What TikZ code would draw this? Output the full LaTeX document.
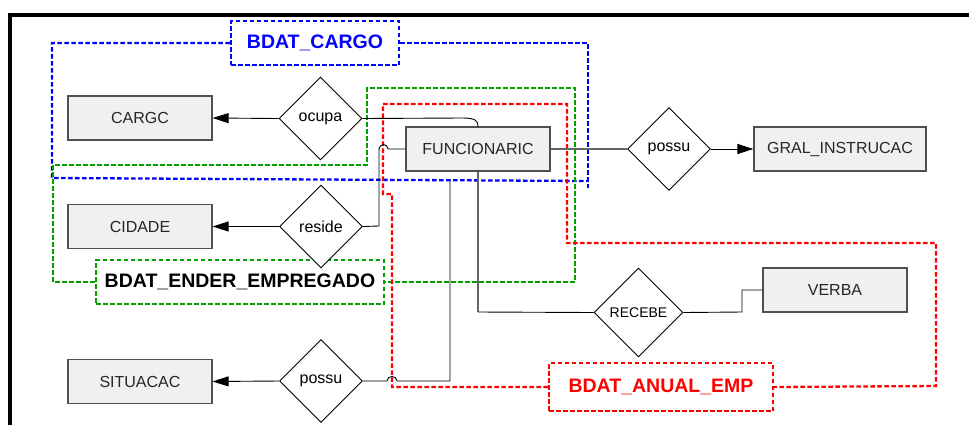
\documentclass[tikz,border=0pt]{standalone}
\usepackage{fontspec}
\setmainfont{Liberation Sans}
\usetikzlibrary{shapes.geometric,arrows.meta}
\definecolor{entfill}{RGB}{240,240,240}
\definecolor{entdraw}{RGB}{80,80,80}
\definecolor{grpblue}{RGB}{0,0,255}
\definecolor{grpgreen}{RGB}{0,160,0}
\definecolor{grpred}{RGB}{255,0,0}
\tikzset{
  entity/.style={draw=entdraw, line width=1.2pt, fill=entfill, minimum width=144pt, minimum height=44pt, inner sep=0pt, font=\fontsize{16}{18}\selectfont, text=black!85},
  rel/.style={draw=black, line width=0.9pt, fill=white, shape=diamond, shape aspect=1, minimum width=83pt, minimum height=83pt, inner sep=0pt, font=\fontsize{16}{18}\selectfont},
  conn/.style={draw=black, line width=0.9pt},
  gconn/.style={draw=black!60, line width=1.4pt},
  arr/.style={-{Triangle[length=16pt,width=10pt]}},
  grp/.style={line width=2.3pt, dash pattern=on 4.5pt off 2.5pt},
  grplabel/.style={grp, fill=white, inner sep=0pt, font=\fontsize{19.5}{22}\selectfont\bfseries}
}
\begin{document}
\begin{tikzpicture}[x=1pt,y=-1pt]
\useasboundingbox (0,0) rectangle (969,424);
% frame
\draw[line width=4.5pt] (10,430) -- (10,15) -- (975,15);

% group label boxes
\node[grplabel, draw=grpblue, text=grpblue, minimum width=168pt, minimum height=44pt] (lcargo) at (315,43) {BDAT\_CARGO};
\node[grplabel, draw=grpgreen, text=black, minimum width=288pt, minimum height=44pt] (lender) at (240,282) {BDAT\_ENDER\_EMPREGADO};
\node[grplabel, draw=grpred, text=grpred, minimum width=224pt, minimum height=48pt] (lanual) at (661,387) {BDAT\_ANUAL\_EMP};

% group outlines
\draw[grp, grpblue] (lcargo.west) -- (52,43) -- (52,178) -- (588,181);
\draw[grp, grpblue] (lcargo.east) -- (588,43) -- (588,188);
\draw[grp, grpgreen] (lender.west) -- (53,282) -- (53,165) -- (367,165) -- (367,88) -- (575,88) -- (575,282) -- (lender.east);
\draw[grp, grpred] (lanual.west) -- (392,387) -- (392,194) -- (383,194) -- (383,104) -- (567,104) -- (567,243) -- (936,243) -- (936,386) -- (lanual.east);

% nodes
\node[entity] (cargc) at (140,118) {CARGC};
\node[entity] (cidade) at (140,226.5) {CIDADE};
\node[entity] (situacac) at (140,381.5) {SITUACAC};
\node[entity] (func) at (478,149) {FUNCIONARIC};
\node[entity, minimum width=172pt] (gral) at (840,149) {GRAL\_INSTRUCAC};
\node[entity] (verba) at (835,290) {VERBA};
\node[rel] (ocupa) at (320.5,118.5) {ocupa};
\node[rel] (reside) at (321,226.5) {reside};
\node[rel] (possuL) at (321,381) {possu};
\node[rel] (possuR) at (669,149) {possu};
\node[rel, minimum width=89pt, minimum height=89pt, font=\fontsize{14}{16}\selectfont] (recebe) at (638.5,312.5) {RECEBE};

% connectors
\draw[conn, arr] (ocupa.west) -- (cargc.east);
\draw[conn, arr] (reside.west) -- (cidade.east);
\draw[conn, arr] (possuL.west) -- (situacac.east);
\draw[conn, arr] (possuR.east) -- (gral.west);
\draw[conn] (ocupa.east) -- (462,118) .. controls (476,118) and (478,121) .. (func.north);
\draw[conn] (reside.east) -- (379,226) -- (379,150) .. controls (379,143) and (388,143) .. (388,149) -- (func.west);
\coordinate (possuend) at (450,179);
\draw[conn] (possuL.east) -- (387,381) .. controls (387,375) and (397,375) .. (397,381) -- (450,381) -- (possuend);
\draw[gconn] (func.east) -- (possuR.west);
\draw[gconn] (func.south) -- (478,312);
\draw[conn] (478,312) -- (recebe.west);
\draw[conn] (recebe.east) -- (742,312) -- (742,290) -- (verba.west);
\end{tikzpicture}
\end{document}
